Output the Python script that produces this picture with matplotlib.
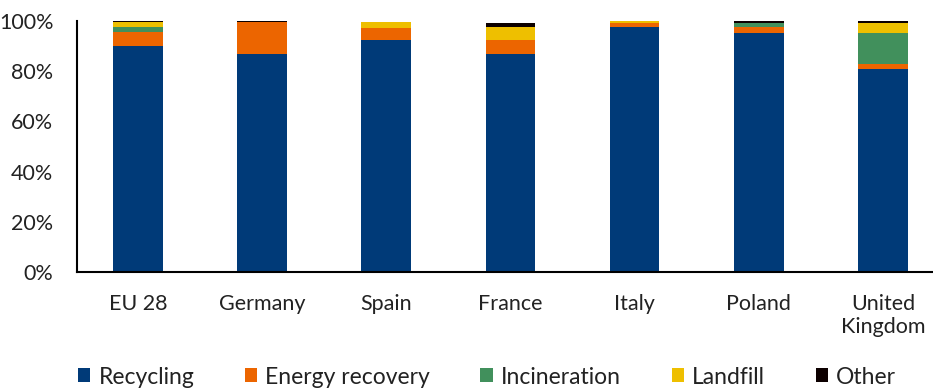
import matplotlib
matplotlib.use("Agg")
import matplotlib.pyplot as plt
import numpy as np
from matplotlib.ticker import PercentFormatter

plt.rcParams['font.family'] = ['Lato', 'DejaVu Sans']

countries = ["EU 28", "Germany", "Spain", "France", "Italy", "Poland", "United\nKingdom"]

# shares of each treatment route, in %
recycling = [90.0, 86.9, 92.3, 86.7, 97.7, 95.3, 81.0]
energy_recovery = [5.5, 12.6, 4.9, 5.6, 1.6, 2.4, 1.9]
incineration = [2.2, 0.0, 0.0, 0.0, 0.0, 1.6, 12.5]
landfill = [1.8, 0.0, 2.3, 5.4, 0.7, 0.0, 4.0]
other = [0.5, 0.5, 0.0, 1.7, 0.0, 0.6, 0.6]

series = [
    ("Recycling", recycling, "#003a78"),
    ("Energy recovery", energy_recovery, "#ec6500"),
    ("Incineration", incineration, "#41905c"),
    ("Landfill", landfill, "#eebf00"),
    ("Other", other, "#0d0000"),
]

fig = plt.figure(figsize=(9.33, 3.91), dpi=100)
ax = fig.add_axes([77 / 933, 1 - 272 / 391, 868 / 933, 251 / 391])

x = np.arange(len(countries))
bottom = np.zeros(len(countries))
for name, vals, color in series:
    vals = np.array(vals)
    ax.bar(x, vals, 0.4, bottom=bottom, color=color, label=name)
    bottom += vals

ax.set_xlim(-0.49, 6.5)
ax.set_ylim(0, 100)
ax.set_yticks(np.arange(0, 101, 20))
ax.yaxis.set_major_formatter(PercentFormatter(decimals=0))
ax.set_xticks(x)
ax.set_xticklabels(countries, fontsize=15.5, color="#222222", linespacing=1.2)

for side in ["top", "right"]:
    ax.spines[side].set_visible(False)
ax.spines["bottom"].set_linewidth(1.5)
ax.spines["left"].set_linewidth(1.5)
ax.tick_params(axis="y", length=0, pad=17, labelsize=15.5, labelcolor="#222222")
ax.tick_params(axis="x", length=0, pad=16)

fig.legend(loc="center", bbox_to_anchor=(487 / 933, 1 - 377 / 391), ncol=5,
           frameon=False, fontsize=16.5, handlelength=0.55, handleheight=0.55,
           handletextpad=0.35, columnspacing=2.2, labelcolor="#222222")

fig.savefig("out.png", dpi=100)
